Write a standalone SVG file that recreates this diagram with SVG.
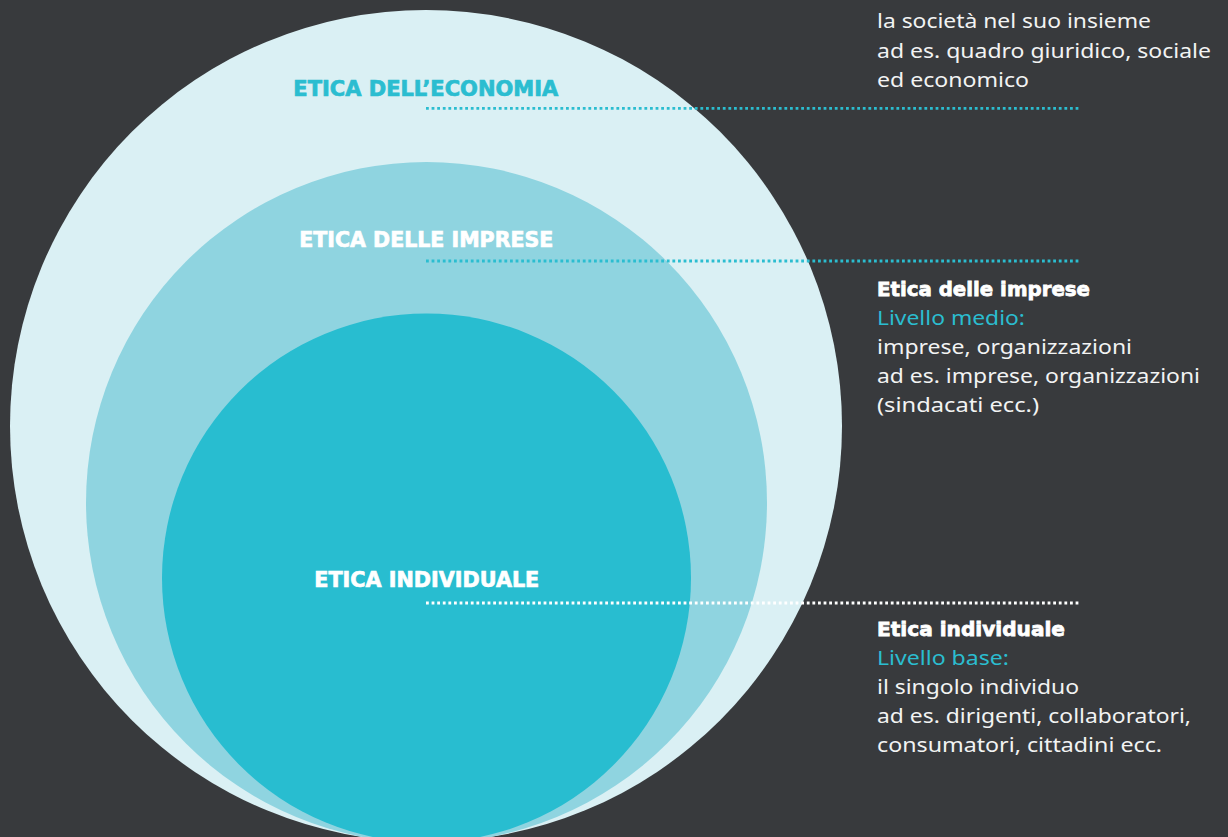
<svg xmlns="http://www.w3.org/2000/svg" width="1228" height="837" viewBox="0 0 1228 837">
  <style>
    .body { font-family: "Noto Sans", "Open Sans", "DejaVu Sans", sans-serif; font-size: 20px; fill: #f2f3f3; }
    .sub { font-family: "Noto Sans", "Open Sans", "DejaVu Sans", sans-serif; font-size: 20px; fill: #2bbdd0; }
    .head { font-family: "DejaVu Sans", "Liberation Sans", sans-serif; font-weight: bold; font-size: 20px; fill: #ffffff; stroke: #ffffff; stroke-width: 0.8; }
    .lbl { font-family: "DejaVu Sans", "Liberation Sans", sans-serif; font-weight: bold; font-size: 20.5px; stroke-width: 0.7; }
    .dots { fill: none; stroke-width: 2.8; stroke-dasharray: 2.8 2.8; }
  </style>
  <rect width="1228" height="837" fill="#383a3d"/>

  <g id="node-economia">
    <circle cx="426" cy="426" r="416" fill="#daf0f4"/>
  </g>
  <g id="node-imprese">
    <circle cx="426.5" cy="502.5" r="340.5" fill="#8fd4e0"/>
  </g>
  <g id="node-individuale">
    <circle cx="426.5" cy="578" r="264.5" fill="#28bdd0"/>
  </g>

  <g id="connectors">
    <line class="dots" x1="426" y1="108.3" x2="1079" y2="108.3" stroke="#2bbdd0"/>
    <line class="dots" x1="426" y1="261" x2="1079" y2="261" stroke="#2bbdd0"/>
    <line class="dots" x1="426" y1="603" x2="1080" y2="603" stroke="#ffffff"/>
  </g>

  <g id="label-economia">
    <text class="lbl" x="293.3" y="95.5" textLength="265" lengthAdjust="spacingAndGlyphs" fill="#2bbdd0" stroke="#2bbdd0">ETICA DELL’ECONOMIA</text>
  </g>
  <g id="label-imprese">
    <text class="lbl" x="299.3" y="246.5" textLength="254" lengthAdjust="spacingAndGlyphs" fill="#ffffff" stroke="#ffffff">ETICA DELLE IMPRESE</text>
  </g>
  <g id="label-individuale">
    <text class="lbl" x="314.3" y="587" textLength="225" lengthAdjust="spacingAndGlyphs" fill="#ffffff" stroke="#ffffff">ETICA INDIVIDUALE</text>
  </g>

  <g id="desc-economia">
    <text class="body" x="877" y="28.3" textLength="274" lengthAdjust="spacingAndGlyphs">la società nel suo insieme</text>
    <text class="body" x="877" y="58" textLength="334" lengthAdjust="spacingAndGlyphs">ad es. quadro giuridico, sociale</text>
    <text class="body" x="877" y="87" textLength="152" lengthAdjust="spacingAndGlyphs">ed economico</text>
  </g>

  <g id="desc-imprese">
    <text class="head" x="877" y="295.5" textLength="213" lengthAdjust="spacingAndGlyphs">Etica delle imprese</text>
    <text class="sub" x="877" y="325" textLength="148" lengthAdjust="spacingAndGlyphs">Livello medio:</text>
    <text class="body" x="877" y="353.5" textLength="255" lengthAdjust="spacingAndGlyphs">imprese, organizzazioni</text>
    <text class="body" x="877" y="383" textLength="323" lengthAdjust="spacingAndGlyphs">ad es. imprese, organizzazioni</text>
    <text class="body" x="877" y="412" textLength="162" lengthAdjust="spacingAndGlyphs">(sindacati ecc.)</text>
  </g>

  <g id="desc-individuale">
    <text class="head" x="877" y="635.5" textLength="188" lengthAdjust="spacingAndGlyphs">Etica individuale</text>
    <text class="sub" x="877" y="665" textLength="132" lengthAdjust="spacingAndGlyphs">Livello base:</text>
    <text class="body" x="877" y="693.5" textLength="202" lengthAdjust="spacingAndGlyphs">il singolo individuo</text>
    <text class="body" x="877" y="723" textLength="314" lengthAdjust="spacingAndGlyphs">ad es. dirigenti, collaboratori,</text>
    <text class="body" x="877" y="752" textLength="285" lengthAdjust="spacingAndGlyphs">consumatori, cittadini ecc.</text>
  </g>
</svg>
